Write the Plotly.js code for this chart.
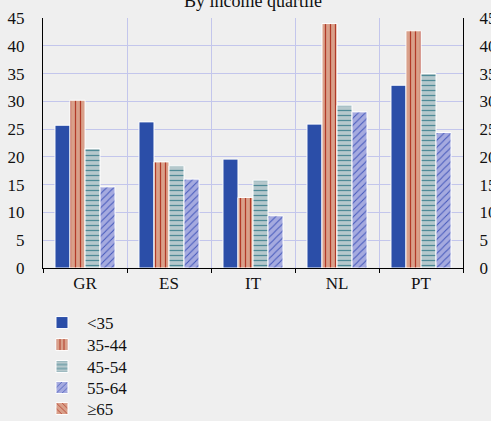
<!DOCTYPE html>
<html><head><meta charset="utf-8">
<script src="https://cdn.plot.ly/plotly-3.0.1.min.js"></script>
<style>html,body{margin:0;padding:0;background:#efefef;}</style>
</head><body>
<div id="chart" style="width:491px;height:421px;"></div>
<script>
const countries = ["GR", "ES", "IT", "NL", "PT"];
const seriesNames = ["<35", "35-44", "45-54", "55-64", "≥65"];
const under35 = [25.7, 26.3, 19.6, 25.9, 32.9];
const age35to44 = [30.2, 19.1, 12.7, 44.0, 42.7];
const age45to54 = [21.5, 18.4, 15.8, 29.3, 35.0];
const age55to64 = [14.6, 16.0, 9.4, 28.1, 24.4];
const age65plus = [null, null, null, null, null];
const yTicks = [0, 5, 10, 15, 20, 25, 30, 35, 40, 45];

const line = {color: "#ffffff", width: 1};
const traces = [
  {type: "bar", name: seriesNames[0], x: countries, y: under35, legend: "legend",
   marker: {color: "#2b4ea8", line: line}},
  {type: "bar", name: seriesNames[1], x: countries, y: age35to44, legend: "legend2",
   marker: {color: "#d9a08a", line: line,
     pattern: {shape: "|", fgcolor: "#b23a28", bgcolor: "#d9a08a", size: 5, solidity: 0.25}}},
  {type: "bar", name: seriesNames[2], x: countries, y: age45to54, legend: "legend3",
   marker: {color: "#b5c8cc", line: line,
     pattern: {shape: "-", fgcolor: "#4f8a96", bgcolor: "#b5c8cc", size: 5, solidity: 0.25}}},
  {type: "bar", name: seriesNames[3], x: countries, y: age55to64, legend: "legend4",
   marker: {color: "#a5aadf", line: line,
     pattern: {shape: "/", fgcolor: "#4458bb", bgcolor: "#a5aadf", size: 5, solidity: 0.2}}},
  {type: "bar", name: seriesNames[4], x: countries, y: age65plus, yaxis: "y2", legend: "legend5",
   marker: {color: "#d9a08a", line: line,
     pattern: {shape: "\\", fgcolor: "#b23a28", bgcolor: "#d9a08a", size: 5, solidity: 0.2}}}
];

const fam = "Liberation Serif";
function f(size) { return {family: fam, size: size, color: "#111"}; }
function leg(y) {
  return {x: -0.0143, xanchor: "left", y: y, yanchor: "middle",
          orientation: "v", bgcolor: "rgba(0,0,0,0)", font: f(17),
          itemwidth: 40, borderwidth: 0};
}
const layout = {
  width: 491, height: 421,
  paper_bgcolor: "#efefef", plot_bgcolor: "#efefef",
  font: f(17),
  margin: {l: 43, r: 28, t: 18, b: 153, autoexpand: false},
  title: {text: "By income quartile", font: f(18),
          x: 0.5, xanchor: "center", xref: "paper", y: 0.998, yanchor: "middle"},
  barmode: "group", bargap: 0.285, bargroupgap: 0,
  showlegend: true,
  legend: leg(-0.22),
  legend2: leg(-0.308),
  legend3: leg(-0.396),
  legend4: leg(-0.48),
  legend5: leg(-0.564),
  xaxis: {type: "category", tickson: "boundaries", showgrid: true,
          gridcolor: "#c3c6ec", gridwidth: 1,
          showline: true, linecolor: "#000", linewidth: 1,
          ticks: "outside", ticklen: 4, tickcolor: "#000",
          tickfont: f(17), zeroline: false, fixedrange: true},
  yaxis: {range: [0, 45], tickvals: yTicks, ticktext: yTicks.map(String),
          showgrid: true, gridcolor: "#c3c6ec", gridwidth: 1,
          showline: true, linecolor: "#000", linewidth: 1,
          ticks: "", ticklabelstandoff: 14, tickfont: f(17), zeroline: false},
  yaxis2: {range: [0, 45], tickvals: yTicks, ticktext: yTicks.map(String),
           overlaying: "y", side: "right", showgrid: false,
           showline: true, linecolor: "#000", linewidth: 1,
           ticks: "", ticklabelstandoff: 12, tickfont: f(17), zeroline: false}
};
Plotly.newPlot("chart", traces, layout, {displayModeBar: false, staticPlot: true});
</script>
</body></html>
